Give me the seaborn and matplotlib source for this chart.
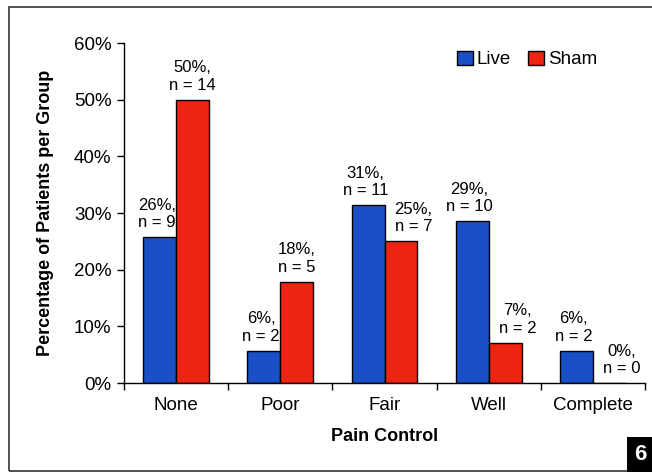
import pandas as pd
import seaborn as sns
import matplotlib.pyplot as plt
from matplotlib.patches import Rectangle

# Data
categories = ['None', 'Poor', 'Fair', 'Well', 'Complete']
live_pct = [25.7, 5.7, 31.4, 28.6, 5.7]
sham_pct = [50.0, 17.9, 25.0, 7.1, 0.0]
live_labels = ['26%,\nn = 9', '6%,\nn = 2', '31%,\nn = 11', '29%,\nn = 10', '6%,\nn = 2']
sham_labels = ['50%,\nn = 14', '18%,\nn = 5', '25%,\nn = 7', '7%,\nn = 2', '0%,\nn = 0']
y_ticks = [0, 10, 20, 30, 40, 50, 60]

df = pd.DataFrame({
    'Pain Control': categories * 2,
    'Percent': live_pct + sham_pct,
    'Group': ['Live'] * len(categories) + ['Sham'] * len(categories),
})

sns.set_style('white')
plt.rcParams['font.family'] = ['Liberation Sans', 'DejaVu Sans']
plt.rcParams['text.color'] = 'black'
plt.rcParams['axes.labelcolor'] = 'black'
plt.rcParams['xtick.color'] = 'black'
plt.rcParams['ytick.color'] = 'black'

fig = plt.figure(figsize=(6.52, 4.72), dpi=100)
ax = fig.add_axes([124 / 652, 1 - 383 / 472, (645 - 124) / 652, (383 - 43) / 472])

colors = {'Live': '#1b4fc6', 'Sham': '#ee2412'}
sns.barplot(data=df, x='Pain Control', y='Percent', hue='Group', palette=colors,
            width=0.63, edgecolor='black', linewidth=1.0, saturation=1, ax=ax)

ax.set_ylim(0, 60)
ax.set_xlim(-0.5, len(categories) - 0.5)
ax.set_yticks(y_ticks)
ax.set_yticklabels([f'{t}%' for t in y_ticks], fontsize=13.5)
ax.tick_params(axis='x', length=0, labelsize=13.5, pad=10)
ax.tick_params(axis='y', length=5, width=1, direction='out', left=True, pad=4)
# tick marks between categories on the x axis
ax.set_xticks([i + 0.5 for i in range(-1, len(categories))], minor=True)
ax.tick_params(axis='x', which='minor', length=5, width=1, direction='out', bottom=True)

for s in ['top', 'right']:
    ax.spines[s].set_visible(False)
for s in ['left', 'bottom']:
    ax.spines[s].set_color('black')
    ax.spines[s].set_linewidth(1.0)

ax.set_ylabel('Percentage of Patients per Group', fontsize=13, fontweight='bold', labelpad=14)
ax.set_xlabel('Pain Control', fontsize=13, fontweight='bold', labelpad=10)

# value labels above bars
live_bars = ax.containers[0]
sham_bars = ax.containers[1]
for i, (b, lab) in enumerate(zip(live_bars, live_labels)):
    ax.annotate(lab, (b.get_x() + b.get_width() / 2, b.get_height()),
                xytext=(-2, 5), textcoords='offset points',
                ha='center', va='bottom', fontsize=12, linespacing=1.2)
for i, (b, lab) in enumerate(zip(sham_bars, sham_labels)):
    dx = 9 if live_pct[i] > sham_pct[i] else 0
    ax.annotate(lab, (b.get_x() + b.get_width() / 2, b.get_height()),
                xytext=(dx, 5), textcoords='offset points',
                ha='center', va='bottom', fontsize=12, linespacing=1.2)

leg = ax.legend(loc='upper left', bbox_to_anchor=(0.625, 1.0), ncol=2, frameon=False,
                fontsize=13.5, handlelength=0.85, handleheight=0.85, handletextpad=0.2,
                columnspacing=0.9, borderaxespad=0)

# outer frame and panel number box
fig.patches.append(Rectangle((9 / 652, 1 / 472), 1.1, 464 / 472, transform=fig.transFigure,
                             fill=False, edgecolor='#333333', linewidth=1.2))
fig.patches.append(Rectangle((627 / 652, 0), 30 / 652, 35 / 472, transform=fig.transFigure,
                             facecolor='black', edgecolor='none'))
fig.text(640 / 652, 17 / 472, '6', color='white', fontsize=16, fontweight='bold',
         ha='center', va='center')

fig.savefig('out.png', dpi=100)
